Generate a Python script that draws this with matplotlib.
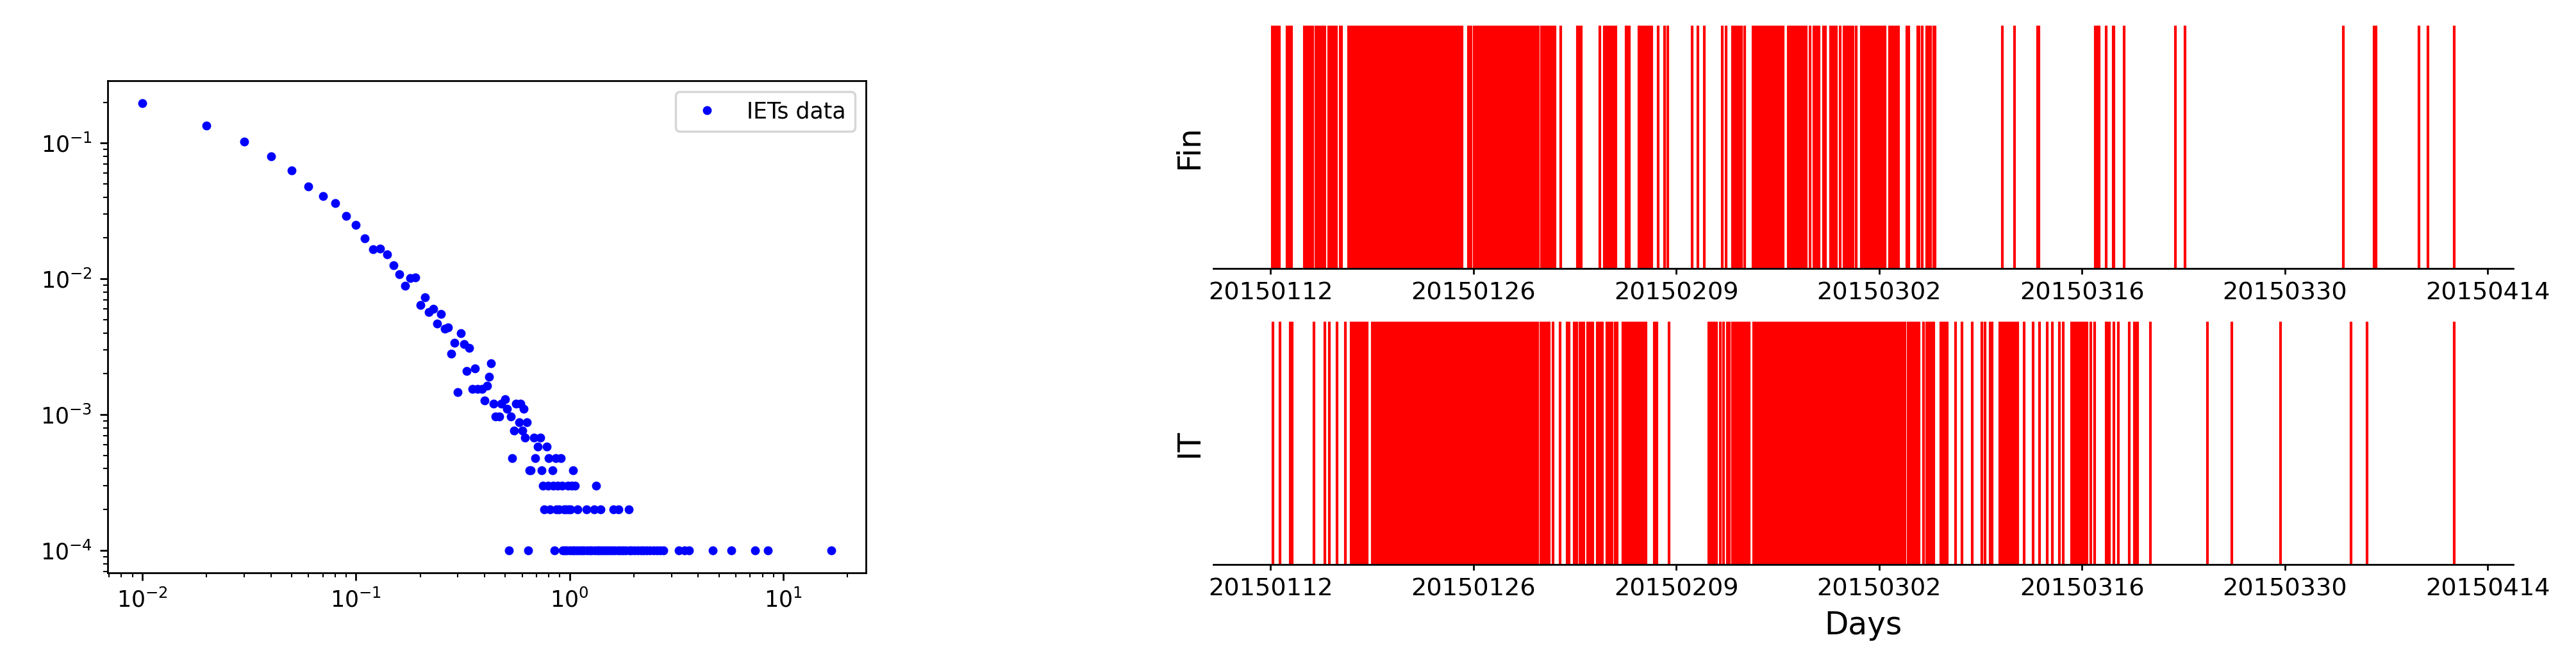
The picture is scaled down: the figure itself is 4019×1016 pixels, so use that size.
import matplotlib
matplotlib.use("Agg")
import matplotlib.pyplot as plt

#Inter-event time distribution (days, probability)
iet_x = [0.01, 0.02, 0.03, 0.04, 0.05, 0.06, 0.07, 0.08, 0.09, 0.10,
         0.11, 0.12, 0.13, 0.14, 0.15, 0.16, 0.17, 0.18, 0.19, 0.20,
         0.21, 0.22, 0.23, 0.24, 0.25, 0.26, 0.27, 0.28, 0.29, 0.30,
         0.31, 0.32, 0.33, 0.34, 0.35, 0.36, 0.37, 0.39, 0.40, 0.41,
         0.42, 0.43, 0.44, 0.45, 0.47, 0.48, 0.50, 0.51, 0.53, 0.54,
         0.55, 0.56, 0.58, 0.59, 0.60, 0.61, 0.62, 0.63, 0.65, 0.66,
         0.68, 0.69, 0.71, 0.73, 0.74, 0.75, 0.76, 0.78, 0.79, 0.80,
         0.81, 0.83, 0.84, 0.86, 0.87, 0.88, 0.89, 0.91, 0.92, 0.94,
         0.96, 0.98, 0.99, 1.01, 1.02, 1.04, 1.06, 1.09, 1.20, 1.30,
         1.33, 1.40, 1.60, 1.70, 1.89,
         0.52, 0.64, 0.85, 0.93, 0.95, 0.97, 1.00, 1.03, 1.05, 1.08,
         1.11, 1.14, 1.17, 1.21, 1.24, 1.27, 1.31, 1.35, 1.38, 1.42,
         1.46, 1.50, 1.54, 1.58, 1.63, 1.68, 1.73, 1.78, 1.83, 1.90,
         1.95, 2.01, 2.08, 2.15, 2.22, 2.30, 2.38, 2.47, 2.56, 2.65,
         2.74, 3.25, 3.44, 3.62, 4.66, 5.70, 7.37, 8.49, 16.8]
iet_p = [0.197, 0.134, 0.102, 0.0795, 0.0628, 0.0477, 0.0407, 0.036, 0.029, 0.025,
         0.0198, 0.0166, 0.0167, 0.0151, 0.0126, 0.0108, 0.0089, 0.0101, 0.0102, 0.0064,
         0.0073, 0.0057, 0.0060, 0.0047, 0.0055, 0.0043, 0.0044, 0.0028, 0.0034, 0.00146,
         0.0040, 0.0033, 0.0021, 0.0031, 0.00154, 0.0022, 0.00154, 0.00154, 0.00127, 0.00164,
         0.0019, 0.0024, 0.0012, 0.00097, 0.00097, 0.0012, 0.0013, 0.0011, 0.00097, 0.00048,
         0.00076, 0.0012, 0.00088, 0.0012, 0.00076, 0.0011, 0.00068, 0.00088, 0.00039, 0.00039,
         0.00068, 0.00048, 0.00058, 0.00068, 0.00039, 0.0003, 0.0002, 0.00058, 0.0003, 0.00048,
         0.0002, 0.00039, 0.0003, 0.00048, 0.0002, 0.0003, 0.0002, 0.00048, 0.0003, 0.0002,
         0.0002, 0.0003, 0.0002, 0.0002, 0.0003, 0.00039, 0.0003, 0.0002, 0.0002, 0.0002,
         0.0003, 0.0002, 0.0002, 0.0002, 0.0002,
         0.0001, 0.0001, 0.0001, 0.0001, 0.0001, 0.0001, 0.0001, 0.0001, 0.0001, 0.0001,
         0.0001, 0.0001, 0.0001, 0.0001, 0.0001, 0.0001, 0.0001, 0.0001, 0.0001, 0.0001,
         0.0001, 0.0001, 0.0001, 0.0001, 0.0001, 0.0001, 0.0001, 0.0001, 0.0001, 0.0001,
         0.0001, 0.0001, 0.0001, 0.0001, 0.0001, 0.0001, 0.0001, 0.0001, 0.0001, 0.0001,
         0.0001, 0.0001, 0.0001, 0.0001, 0.0001, 0.0001, 0.0001, 0.0001, 0.0001]

#Event times in days after 20150112
fin_days = [
    0.13, 0.28, 0.49, 0.63, 1.13, 1.28, 1.47,
    2.33, 2.47, 2.58, 2.70, 2.82, 2.92, 3.15, 3.25, 3.43, 3.62, 3.76,
    4.03, 4.17, 4.31, 4.45, 4.56, 4.82, 4.92, 5.40, 5.53, 5.65,
    5.80, 5.94, 6.08, 6.22, 6.36, 6.50, 6.64, 6.78, 6.86, 6.97, 7.17, 7.30,
    7.39, 7.53, 7.67, 7.81, 7.95, 8.09, 8.19,
    8.30, 8.44, 8.58, 8.72, 8.86, 9.00, 9.14,
    9.23, 9.37, 9.51, 9.65, 9.79, 9.93, 10.07, 10.21, 10.33,
    10.44, 10.58, 10.72, 10.86, 11.00, 11.14, 11.28, 11.42, 11.56, 11.70,
    11.84, 11.98, 12.12, 12.26, 12.40, 12.54, 12.68, 12.82, 12.96, 13.10, 13.20,
    13.66, 13.84,
    14.05, 14.19, 14.33, 14.47, 14.61, 14.75, 14.89, 15.03, 15.17, 15.31, 15.45, 15.59, 15.70,
    15.82, 15.96, 16.10, 16.24, 16.38, 16.52, 16.66, 16.80, 16.94, 17.08, 17.22, 17.36, 17.50, 17.55,
    17.66, 17.80, 17.94, 18.08, 18.22, 18.36, 18.50,
    18.70, 18.79, 18.96, 19.10, 19.24, 19.40, 19.54, 19.65, 20.04,
    21.17, 21.31, 21.45, 22.72, 23.05, 23.16, 23.30, 23.44, 23.58, 23.72, 23.81,
    24.52, 24.66, 24.77, 25.42, 25.56, 25.70, 25.84, 25.94, 26.01, 26.15, 26.30, 26.74, 27.20, 27.40,
    29.10, 29.48, 29.95, 31.16, 31.43, 31.90, 32.04, 32.18, 32.32, 32.48, 32.70,
    33.30, 33.44, 33.59, 33.78, 33.92, 34.04,
    34.22, 34.36, 34.50, 34.64, 34.78, 34.92, 35.06, 35.20, 35.36,
    35.72, 35.86, 36.00, 36.14, 36.28, 36.42, 36.56, 36.70, 36.84, 36.98,
    37.24, 37.48, 37.62, 37.76, 37.87, 38.16, 38.30, 38.67, 38.81, 38.95, 39.05,
    39.30, 39.56, 39.70, 39.79, 39.97, 40.11, 40.20, 40.41,
    40.78, 40.90, 41.07, 41.22, 41.32, 41.43, 41.57, 41.64, 41.76, 41.90, 42.04, 42.21, 42.36, 42.41,
    42.72, 42.86, 43.00, 43.10, 43.25, 43.34, 43.90, 44.04, 44.65, 44.77, 44.98,
    45.30, 45.44, 45.54, 45.77, 45.88,
    50.50, 51.33, 52.92, 53.02, 56.91, 57.05, 57.17, 57.66, 58.14, 58.22, 58.89,
    62.43, 63.10, 74.02, 76.15, 76.28, 79.27, 79.88, 81.68]

it_days = [
    0.15, 0.66, 1.35, 1.48, 3.00, 3.73, 4.05, 4.58, 5.18,
    5.58, 5.72, 5.86, 5.95, 6.14, 6.29, 6.43, 6.57, 6.68,
    7.04, 7.14, 7.24, 7.38, 7.52, 7.62, 7.76, 7.90, 8.04, 8.09, 8.24, 8.38, 8.52, 8.62,
    8.75, 8.89, 9.03, 9.17, 9.31, 9.45, 9.59, 9.73, 9.87, 10.01, 10.15, 10.29,
    10.43, 10.57, 10.71, 10.85, 10.99, 11.13, 11.27, 11.41, 11.55, 11.69, 11.83,
    11.97, 12.11, 12.25, 12.39, 12.53, 12.67, 12.81, 12.95, 13.09, 13.23, 13.37,
    13.51, 13.65, 13.79, 13.93, 14.07, 14.21, 14.35, 14.49, 14.63, 14.77, 14.91,
    15.05, 15.19, 15.33, 15.47, 15.61, 15.75, 15.89, 16.03, 16.17, 16.31, 16.45,
    16.59, 16.73, 16.87, 17.01, 17.15, 17.29, 17.43, 17.57, 17.71, 17.85, 17.99,
    18.13, 18.27,
    18.45, 18.66, 18.85, 18.99, 19.13, 19.23, 19.51, 19.97,
    20.48, 20.62, 20.95, 21.13, 21.35, 21.49, 21.64, 21.87, 22.01, 22.15, 22.25,
    22.53, 22.67, 22.81, 22.91, 23.22, 23.36, 23.50, 23.58, 23.79, 23.94,
    24.30, 24.44, 24.58, 24.72, 24.90, 25.04, 25.20, 25.34, 25.48, 25.63, 25.77, 25.93,
    26.48, 26.66, 27.51,
    30.24, 30.38, 30.50, 30.64, 30.79, 31.04, 31.27, 31.52, 31.67, 31.89, 32.03, 32.18,
    32.33, 32.47, 32.61, 32.75, 32.85, 33.03,
    33.36, 33.50, 33.64, 33.78, 33.92, 34.06, 34.20, 34.34, 34.48, 34.62, 34.76,
    34.90, 35.04, 35.18, 35.32, 35.46, 35.60, 35.74, 35.88, 36.02, 36.16, 36.30,
    36.44, 36.58, 36.72, 36.86, 37.00, 37.14, 37.28, 37.42, 37.56, 37.70, 37.84,
    37.98, 38.12, 38.26, 38.40, 38.54, 38.68, 38.82, 38.96, 39.10, 39.24, 39.38,
    39.52, 39.66, 39.80, 39.94, 40.08, 40.22, 40.36, 40.50, 40.64, 40.78, 40.92,
    41.06, 41.20, 41.34, 41.48, 41.62, 41.76, 41.90, 42.04, 42.18, 42.32, 42.46,
    42.60, 42.74, 42.88, 43.02,
    43.18, 43.32, 43.46, 43.60, 43.76, 43.98, 44.12, 44.26, 44.42, 44.57, 44.71, 44.77,
    45.07, 45.29, 45.45, 45.59, 45.78, 46.26, 46.40, 46.54, 46.71, 47.26, 47.70,
    48.44, 49.08, 49.29, 49.68, 49.80,
    50.31, 50.45, 50.61, 50.75, 50.89, 50.98, 51.15, 51.29, 51.42, 51.58, 52.02,
    52.64, 53.07, 53.58, 53.94, 54.42, 54.72, 55.26, 55.40, 55.59, 55.73, 55.87,
    55.93, 56.06, 56.20, 56.36, 56.60, 56.86, 57.68, 57.82, 57.91, 58.19, 58.52,
    59.24, 59.60, 59.74, 59.82, 60.71,
    64.68, 66.32, 69.69, 74.57, 75.69, 81.67]

tick_days = [0, 14, 28, 42, 56, 70, 84]
tick_labels = ['20150112', '20150126', '20150209', '20150302',
               '20150316', '20150330', '20150414']

#Figure is 4020x1016 px at 250 dpi
W, H = 4020.0, 1016.0
fig = plt.figure(figsize=(W / 250, H / 250), dpi=250)

#Left panel: IET distribution
ax = fig.add_axes([168 / W, 1 - 894 / H, (1351 - 168) / W, (894 - 126) / H])
ax.loglog(iet_x, iet_p, 'bo', markersize=3, label='IETs data')
ax.legend(loc='upper right')

#Right panels: event raster for each group
ax_fin = fig.add_axes([1893 / W, 1 - 419 / H, (3921 - 1893) / W, 379 / H])
ax_it = fig.add_axes([1893 / W, 1 - 881 / H, (3921 - 1893) / W, 379 / H], sharex=ax_fin)

for a, days, name in [(ax_fin, fin_days, 'Fin'), (ax_it, it_days, 'IT')]:
    a.vlines(days, 0, 1, colors='r', linewidth=1.2)
    a.set_ylim(0, 1)
    a.set_yticks([])
    a.set_ylabel(name, fontsize=14)
    for s in ['top', 'right', 'left']:
        a.spines[s].set_visible(False)
    a.set_xticks(tick_days)
    a.set_xticklabels(tick_labels, fontsize=11)
    a.tick_params(axis='x', length=2.5, labelbottom=True)

ax_it.set_xlabel('Days', fontsize=14)

fig.savefig('out.png', dpi=250)
